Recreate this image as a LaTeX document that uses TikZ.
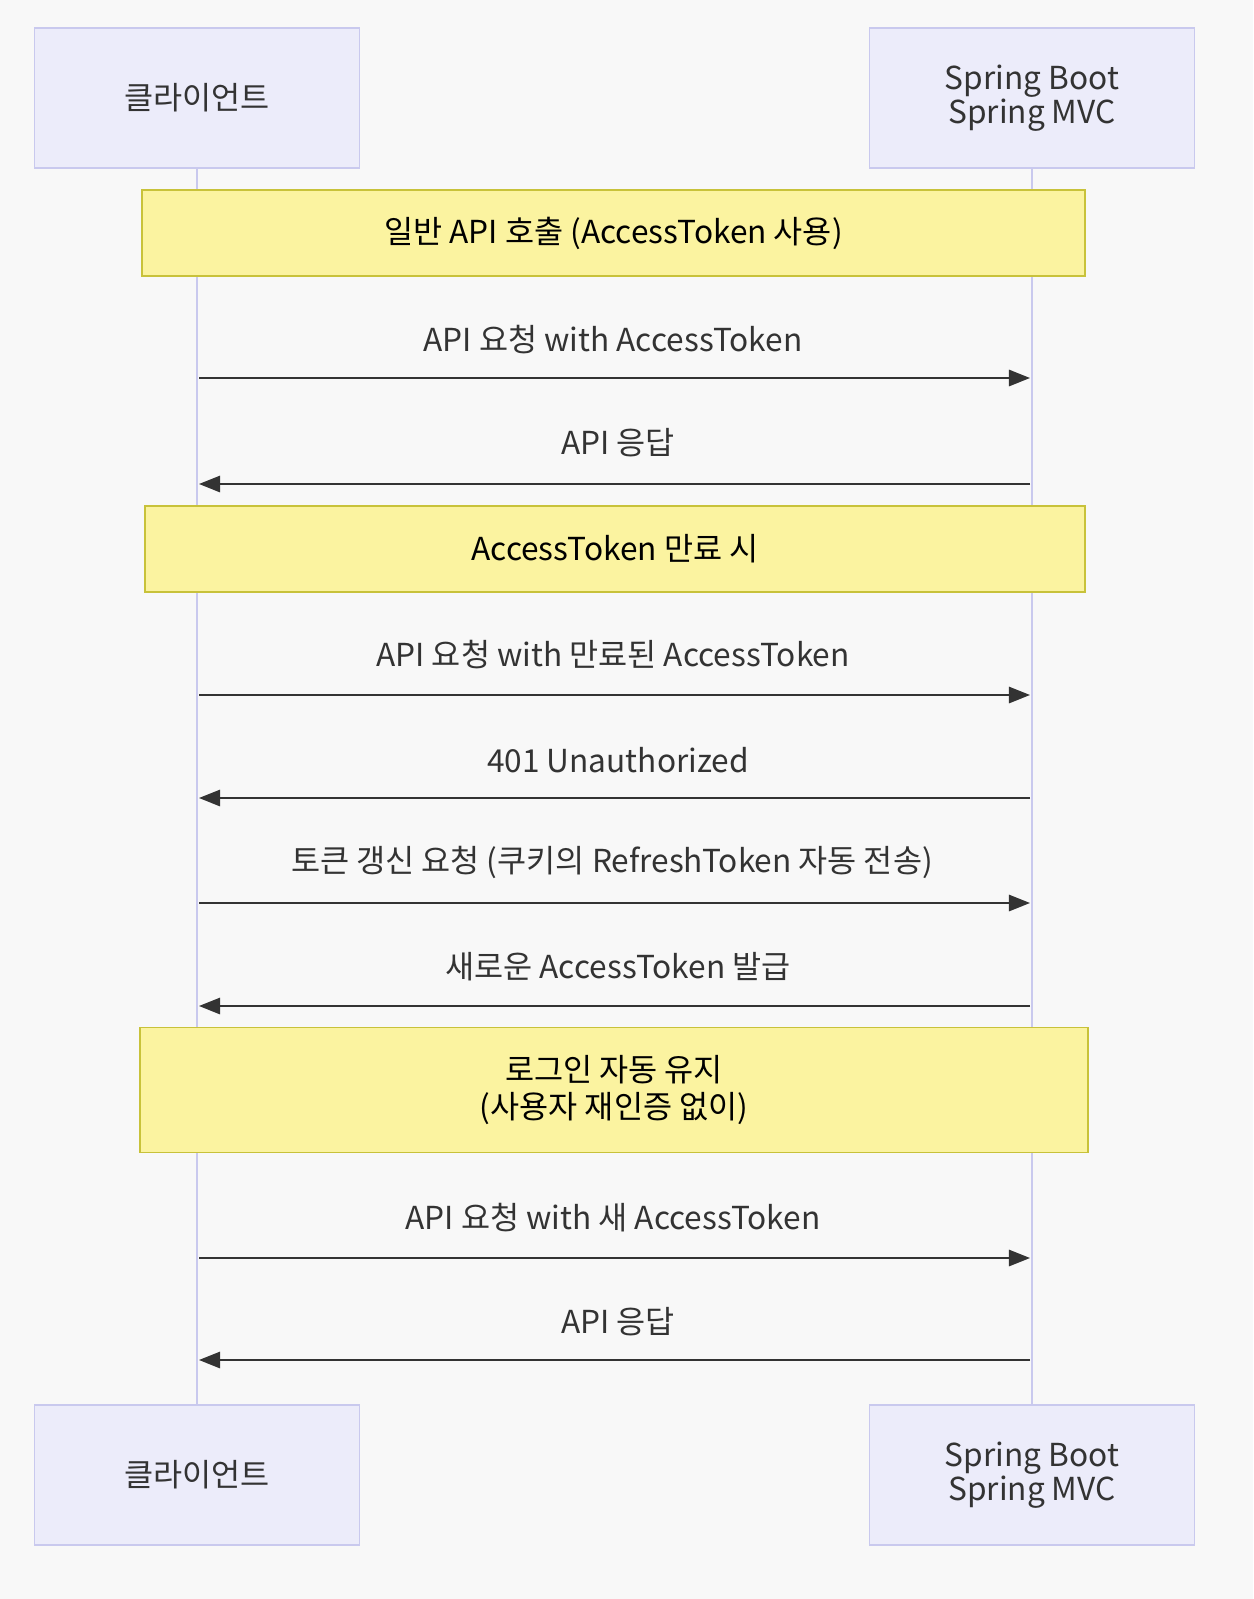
\documentclass[tikz,border=0pt]{standalone}
\usepackage{fontspec}
\setmainfont{Noto Sans CJK KR}
\usetikzlibrary{arrows.meta}
\definecolor{bg}{HTML}{F8F8F8}
\definecolor{pfill}{HTML}{ECECFA}
\definecolor{pline}{HTML}{C9C9EE}
\definecolor{nfill}{HTML}{FBF3A0}
\definecolor{nline}{HTML}{C8C23A}
\definecolor{ink}{HTML}{333333}
\begin{document}
\begin{tikzpicture}[x=0.3mm,y=-0.3mm,
  part/.style={draw=pline,fill=pfill,line width=1.2pt,minimum width=325*0.3mm,minimum height=140*0.3mm,align=center,font=\fontsize{27}{27}\selectfont,text=ink},
  note/.style={draw=nline,fill=nfill,line width=1.2pt,align=center,font=\fontsize{27}{31}\selectfont,text=black},
  lbl/.style={font=\fontsize{27}{29}\selectfont,text=ink},
  msg/.style={draw=ink,line width=1.5pt,-{Triangle[length=18pt,width=14pt]}},
  life/.style={draw=pline,line width=2.5pt}]
\fill[bg] (0,0) rectangle (1253,1599);
\useasboundingbox (0,0) rectangle (1253,1599);
% lifelines
\coordinate (lt) at (197,168); \coordinate (lb) at (197,1405);
\coordinate (rt) at (1032,168); \coordinate (rb) at (1032,1405);
\draw[life] (lt) -- (lb); \draw[life] (rt) -- (rb);
% participants
\node[part] (c1) at (197,98) {클라이언트};
\node[part] (s1) at (1032,98) {Spring Boot\\Spring MVC};
\node[part] (c2) at (197,1475) {클라이언트};
\node[part] (s2) at (1032,1475) {Spring Boot\\Spring MVC};
% notes
\node[note,minimum width=943*0.3mm,minimum height=86*0.3mm] (n1) at (613.5,233) {일반 API 호출 (AccessToken 사용)};
\node[note,minimum width=940*0.3mm,minimum height=86*0.3mm] (n2) at (615,549) {AccessToken 만료 시};
\node[note,minimum width=948*0.3mm,minimum height=125*0.3mm] (n3) at (614,1090) {로그인 자동 유지\\(사용자 재인증 없이)};
% messages
\foreach \i/\y in {1/378,2/484,3/695,4/798,5/903,6/1006,7/1258,8/1360}{
  \coordinate (L\i) at (199,\y); \coordinate (R\i) at (1030,\y);}
\draw[msg] (L1) -- (R1); \node[lbl] (m1) at (613,340) {API 요청 with AccessToken};
\draw[msg] (R2) -- (L2); \node[lbl] (m2) at (618,443) {API 응답};
\draw[msg] (L3) -- (R3); \node[lbl] (m3) at (613,655) {API 요청 with 만료된 AccessToken};
\draw[msg] (R4) -- (L4); \node[lbl] (m4) at (618,760) {401 Unauthorized};
\draw[msg] (L5) -- (R5); \node[lbl] (m5) at (612,862) {토큰 갱신 요청 (쿠키의 RefreshToken 자동 전송)};
\draw[msg] (R6) -- (L6); \node[lbl] (m6) at (618,967) {새로운 AccessToken 발급};
\draw[msg] (L7) -- (R7); \node[lbl] (m7) at (613,1218) {API 요청 with 새 AccessToken};
\draw[msg] (R8) -- (L8); \node[lbl] (m8) at (618,1322) {API 응답};
\end{tikzpicture}
\end{document}
